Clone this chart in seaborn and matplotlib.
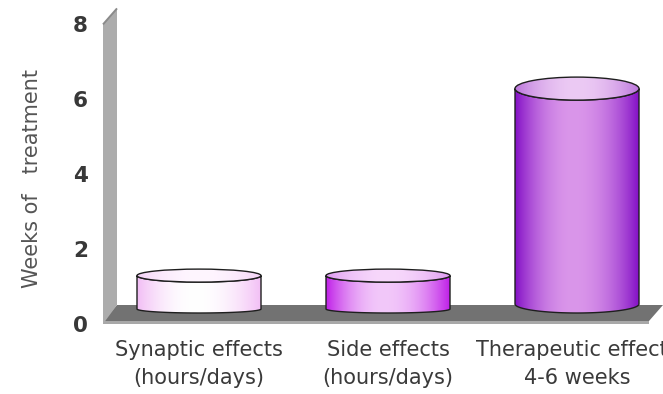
import numpy as np
import matplotlib
matplotlib.use("Agg")
import matplotlib.pyplot as plt
from matplotlib.patches import Polygon, Ellipse
from matplotlib.colors import to_rgb
from matplotlib.transforms import ScaledTranslation
import seaborn as sns

# ---- data -------------------------------------------------------------
categories = ["Synaptic effects\n(hours/days)",
              "Side effects\n(hours/days)",
              "Therapeutic effects\n4-6 weeks"]
weeks = [1, 1, 6]
y_ticks = [0, 2, 4, 6, 8]
y_label = "Weeks of   treatment"

# ---- cylinder shading ---------------------------------------------------
side_edge = ["#f2bdf5", "#c020e8", "#8410c6"]
side_mid = ["#ffffff", "#f2c8fa", "#da96ea"]
top_edge = ["#f4d2f7", "#de9af1", "#bc76dc"]
top_mid = ["#fff6ff", "#f7d8fb", "#eccaf4"]
rim_top_px = [6.5, 6.5, 11.5]
rim_bot_px = [4.0, 4.0, 9.0]

# ---- geometry (pixels) ---------------------------------------------------
FIG_W, FIG_H, DPI = 663, 394, 100
PX_X = 189.0      # pixels per category step
PX_Y = 37.4       # pixels per week
X0_PX = 199.0     # column of first category
Y0_PX = 313.0     # row of zero
XLIM = (-0.55, 2.5)
YLIM = (-0.6, 8.4)
DEPTH_X, DEPTH_Y = 7.0, 8.0  # half depth of the 3-D box, pixels

sns.set_theme(style="white")
plt.rcParams["font.family"] = ["DejaVu Sans"]

fig = plt.figure(figsize=(FIG_W / DPI, FIG_H / DPI), dpi=DPI)
left = X0_PX + XLIM[0] * PX_X
right = X0_PX + XLIM[1] * PX_X
top = Y0_PX - YLIM[1] * PX_Y
bottom = Y0_PX - YLIM[0] * PX_Y
ax = fig.add_axes([left / FIG_W, (FIG_H - bottom) / FIG_H,
                   (right - left) / FIG_W, (bottom - top) / FIG_H])

sns.barplot(x=categories, y=weeks, width=124 / PX_X, color="white",
            edgecolor="none", ax=ax)
bars = list(ax.patches)
for b in bars:
    b.set_visible(False)

ax.set_xlim(*XLIM)
ax.set_ylim(*YLIM)
for s in ax.spines.values():
    s.set_visible(False)
ax.set_facecolor("none")

# ---- wall and floor --------------------------------------------------------
dx = DEPTH_X / PX_X
dy = DEPTH_Y / PX_Y
xw = (110 - X0_PX) / PX_X     # wall position
xe = 2.418                    # floor right end
wall_top = 7.93
floor = Polygon([(xw - dx, -dy), (xe - dx, -dy), (xe + dx, dy), (xw + dx, dy)],
                closed=True, fc="#727272", ec="none", zorder=1)
ax.add_patch(floor)
strip = 3 / PX_Y
ax.add_patch(Polygon([(xw - dx, -dy), (xe - dx, -dy), (xe - dx, -dy - strip),
                      (xw - dx, -dy - strip)], closed=True, fc="#a8a8a8",
                     ec="none", zorder=1))
wall = Polygon([(xw - dx, -dy - strip), (xw - dx, wall_top - dy),
                (xw + dx, wall_top + dy), (xw + dx, dy)],
               closed=True, fc="#acacac", ec="none", zorder=1)
ax.add_patch(wall)
ax.plot([xw - dx, xw + dx], [wall_top - dy, wall_top + dy], color="#8a8a8a",
        lw=1.4, solid_capstyle="butt", zorder=1)


def shade(edge, mid, n=256, peak=0.47):
    u = np.linspace(0, 1, n)
    d = np.where(u < peak, (u - peak) / peak, (u - peak) / (1 - peak))
    s = (1 - d ** 2)[:, None]
    e, m = np.array(to_rgb(edge)), np.array(to_rgb(mid))
    return (e * (1 - s) + m * s)[None, :, :]


# ---- cylinders ---------------------------------------------------------------
for i, b in enumerate(bars):
    x, w, h = b.get_x(), b.get_width(), b.get_height()
    cx = x + w / 2
    bt = rim_top_px[i] / PX_Y
    bb = rim_bot_px[i] / PX_Y
    t = np.linspace(np.pi, 2 * np.pi, 80)
    # base rim rests on the floor: its lowest point sits at zero
    low = np.c_[cx + w / 2 * np.cos(t), bb + bb * np.sin(t)]
    t2 = t[::-1]
    up = np.c_[cx + w / 2 * np.cos(t2), h + bt * np.sin(t2)]
    body = Polygon(np.vstack([low, up]), closed=True, fc="none",
                   ec="#1e1e1e", lw=1.0, zorder=3)
    ax.add_patch(body)
    im = ax.imshow(shade(side_edge[i], side_mid[i]), extent=(x, x + w, 0, h),
                   aspect="auto", interpolation="bilinear", zorder=2)
    im.set_clip_path(body)

    cap = Ellipse((cx, h), w, 2 * bt, fc="none", ec="#1e1e1e", lw=1.0, zorder=4)
    ax.add_patch(cap)
    im2 = ax.imshow(shade(top_edge[i], top_mid[i], peak=0.5),
                    extent=(x, x + w, h - bt, h + bt),
                    aspect="auto", interpolation="bilinear", zorder=3.5)
    im2.set_clip_path(cap)

ax.set_xlim(*XLIM)
ax.set_ylim(*YLIM)

# ---- ticks and labels ----------------------------------------------------------
ax.set_xticks(range(len(categories)))
ax.set_xticklabels(categories, fontsize=15, color="#3a3a3a", linespacing=1.5)
ax.tick_params(axis="x", length=0, pad=3)

ax.set_yticks(y_ticks)
ax.set_yticklabels([str(v) for v in y_ticks], fontsize=15.5, fontweight="bold",
                   color="#383838")
ax.tick_params(axis="y", length=0, pad=5)
shift = ScaledTranslation(0, -10.5 / DPI, fig.dpi_scale_trans)
for lab in ax.get_yticklabels():
    lab.set_transform(lab.get_transform() + shift)

ax.set_ylabel(y_label, fontsize=15, color="#555555", va="center")
ax.yaxis.set_label_coords((32 - left) / (right - left),
                          (bottom - 178) / (bottom - top))

fig.savefig("out.png", dpi=DPI)
